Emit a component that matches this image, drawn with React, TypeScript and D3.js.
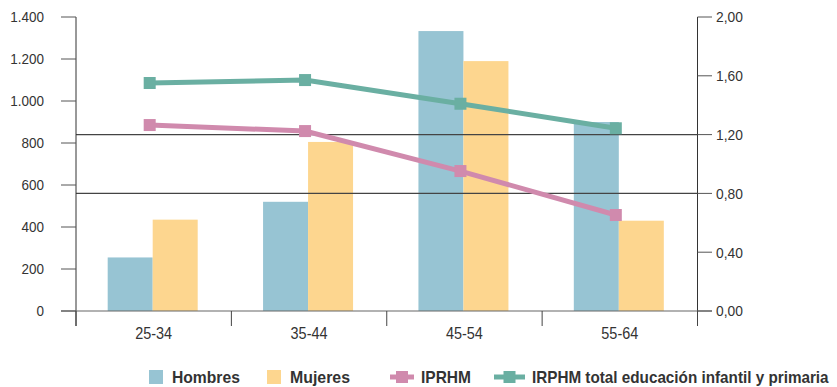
import React, { useLayoutEffect, useRef } from "react";
import * as d3 from "d3";

const categories = ["25-34", "35-44", "45-54", "55-64"];
const hombres = [255, 520, 1333, 900];
const mujeres = [435, 805, 1190, 430];
const iprhm = [1.265, 1.224, 0.952, 0.653];
const irphmTotal = [1.551, 1.571, 1.41, 1.243];
const leftTicks = [0, 200, 400, 600, 800, 1000, 1200, 1400];
const rightTicks = [0, 0.4, 0.8, 1.2, 1.6, 2.0];
const refLines = [0.8, 1.2];

const C_H = "#97c4d3";
const C_M = "#fdd68f";
const C_P = "#d08aad";
const C_T = "#6aafa2";

const W = 837;
const H = 387;
const L = 76;
const R = 697.5;
const TOP = 17;
const BOT = 311;

function FitText({ x, y, width, children }: { x: number; y: number; width: number; children: string }) {
  const ref = useRef<SVGTextElement>(null);
  useLayoutEffect(() => {
    const el = ref.current;
    if (!el) return;
    const w = el.getComputedTextLength();
    const s = w > 0 ? width / w : 1;
    el.setAttribute("transform", `translate(${x},0) scale(${s},1) translate(${-x},0)`);
  }, [x, width, children]);
  return (
    <text ref={ref} x={x} y={y}>
      {children}
    </text>
  );
}

export default function App() {
  const x = d3.scaleBand<string>().domain(categories).range([L, R]);
  const yL = d3.scaleLinear().domain([0, 1400]).range([BOT, TOP]);
  const yR = d3.scaleLinear().domain([0, 2]).range([BOT, TOP]);
  const bw = 45;
  const fmtL = (v: number) => d3.format(",")(v).replace(/,/g, ".");
  const fmtR = (v: number) => v.toFixed(2).replace(".", ",");
  const px = (c: string) => (x(c) as number) + x.bandwidth() / 2 - 4;
  const line = d3
    .line<number>()
    .x((_, i) => px(categories[i]))
    .y((v) => yR(v));
  const axisFont = "'Liberation Sans', Arial, sans-serif";
  const legFont = "'Liberation Sans', Arial, sans-serif";

  return (
    <svg width={W} height={H} style={{ position: "absolute", left: 0, top: 0 }}>
      <rect width={W} height={H} fill="#fff" />
      {/* bars */}
      {categories.map((c, i) => {
        const cx = (x(c) as number) + x.bandwidth() / 2;
        return (
          <g key={c}>
            <rect x={cx - bw - 1} y={yL(hombres[i])} width={bw} height={BOT - yL(hombres[i])} fill={C_H} />
            <rect x={cx - 1} y={yL(mujeres[i])} width={bw} height={BOT - yL(mujeres[i])} fill={C_M} />
          </g>
        );
      })}
      {/* reference lines */}
      {refLines.map((v) => (
        <line key={v} x1={L} x2={R} y1={yR(v)} y2={yR(v)} stroke="#444" strokeWidth={1.2} />
      ))}
      {/* axes */}
      <line x1={L} x2={L} y1={TOP} y2={326} stroke="#333" strokeWidth={1} />
      <line x1={R} x2={R} y1={TOP} y2={326} stroke="#333" strokeWidth={1} />
      <line x1={61} x2={712} y1={BOT} y2={BOT} stroke="#666" strokeWidth={1.2} />
      {leftTicks.map((t) => (
        <g key={"l" + t}>
          <line x1={61} x2={L} y1={yL(t)} y2={yL(t)} stroke="#555" />
          <text x={44} y={yL(t)} dy="0.36em" textAnchor="end" fontFamily={axisFont} fontSize={15} fill="#333" transform={`translate(44,0) scale(0.9,1) translate(-44,0)`}>
            {fmtL(t)}
          </text>
        </g>
      ))}
      {rightTicks.map((t) => (
        <g key={"r" + t}>
          <line x1={R} x2={712} y1={yR(t)} y2={yR(t)} stroke="#555" />
          <text x={716} y={yR(t)} dy="0.36em" textAnchor="start" fontFamily={axisFont} fontSize={15} fill="#333" transform={`translate(716,0) scale(0.92,1) translate(-716,0)`}>
            {fmtR(t)}
          </text>
        </g>
      ))}
      {[...categories.map((c) => x(c) as number), R].map((v, i) => (
        <line key={"ct" + i} x1={v} x2={v} y1={BOT} y2={326} stroke="#444" />
      ))}
      {categories.map((c) => {
        const cx = (x(c) as number) + x.bandwidth() / 2;
        return (
          <text key={"cl" + c} x={cx} y={339} textAnchor="middle" fontFamily={axisFont} fontSize={17} fill="#333" transform={`translate(${cx},0) scale(0.85,1) translate(${-cx},0)`}>
            {c}
          </text>
        );
      })}
      {/* lines */}
      <path d={line(iprhm) as string} fill="none" stroke={C_P} strokeWidth={5} />
      {iprhm.map((v, i) => (
        <rect key={"p" + i} x={px(categories[i]) - 6} y={yR(v) - 6} width={12} height={12} fill={C_P} />
      ))}
      <path d={line(irphmTotal) as string} fill="none" stroke={C_T} strokeWidth={5} />
      {irphmTotal.map((v, i) => (
        <rect key={"t" + i} x={px(categories[i]) - 6} y={yR(v) - 6} width={12} height={12} fill={C_T} />
      ))}
      {/* legend */}
      <g fontFamily={legFont} fontWeight="bold" fontSize={16.5} fill="#333">
        <rect x={149} y={370} width={14} height={14} fill={C_H} />
        <FitText x={172} y={383.5} width={68}>Hombres</FitText>
        <rect x={267} y={370} width={14} height={14} fill={C_M} />
        <FitText x={290} y={383.5} width={60}>Mujeres</FitText>
        <line x1={390} x2={414} y1={377} y2={377} stroke={C_P} strokeWidth={5} />
        <rect x={396} y={371} width={12} height={12} fill={C_P} />
        <FitText x={421} y={383.5} width={50}>IPRHM</FitText>
        <line x1={494} x2={525} y1={377} y2={377} stroke={C_T} strokeWidth={5} />
        <rect x={503.5} y={371} width={12} height={12} fill={C_T} />
        <FitText x={532} y={383.5} width={297}>IRPHM total educación infantil y primaria</FitText>
      </g>
    </svg>
  );
}
